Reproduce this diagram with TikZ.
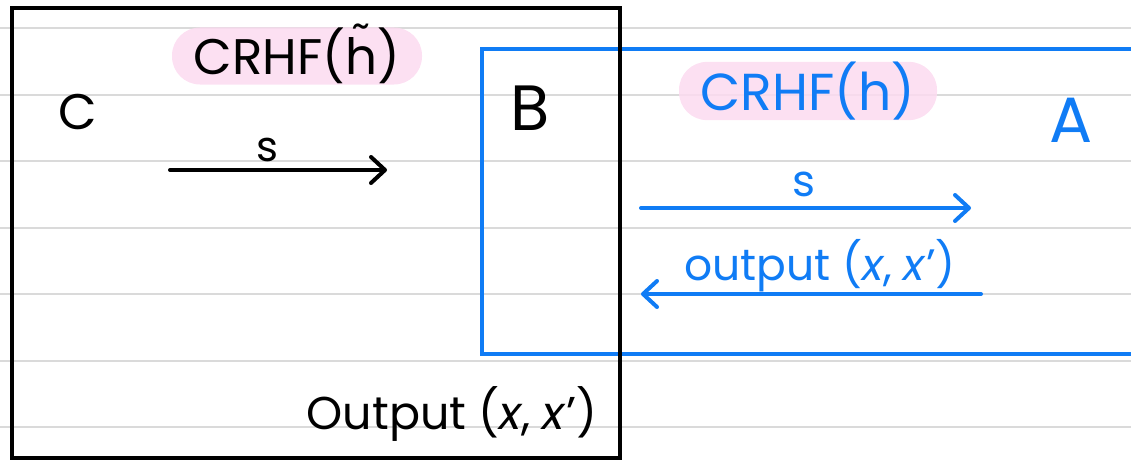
\documentclass[tikz,border=0pt]{standalone}
\usepackage{fontspec}
\setmainfont{Poppins}
\usetikzlibrary{arrows.meta}
\definecolor{penblue}{RGB}{16,124,245}
\definecolor{marker}{RGB}{252,218,240}
\definecolor{rulegray}{RGB}{218,218,218}
% h with a tilde placed just above its ascender
\newcommand{\htilde}{\ooalign{h\cr\hidewidth\raisebox{0.30em}{\char"02DC}\hidewidth\cr}}
\tikzset{
  ruleline/.style={draw=rulegray, line width=1.6},
  pill/.style={fill=marker, fill opacity=0.85, text opacity=1, rounded corners=28,
    minimum height=57, inner sep=0},
  frameblack/.style={draw=black, line width=3.6},
  frameblue/.style={draw=penblue, line width=4},
  penarrow/.style={line width=4, line cap=round,
    -{Straight Barb[length=14, width=26, round]}},
  hand/.style={inner sep=0, anchor=center},
}
\begin{document}
\begin{tikzpicture}[x=1pt, y=-1pt]
\useasboundingbox (0,0) rectangle (1131,460);

% notebook ruling
\foreach \yy in {28,95,161,228,294,361,427}
  \draw[ruleline] (0,\yy) -- (1131,\yy);

% highlighted function labels
\node[pill, minimum width=250] (hl) at (297,56)
  {\fontsize{50}{50}\selectfont CRHF(\htilde)};
\node[pill, minimum width=258, text=penblue] (hr) at (808,91)
  {\fontsize{52}{52}\selectfont CRHF(h)};

% frame of B (open to the right)
\draw[frameblue] (1140,49) -- (482,49) -- (482,354) -- (1140,354);
% frame of C
\draw[frameblack] (12,8) rectangle (620,458);

% party names
\node[hand] (C) at (78,112) {\fontsize{50}{50}\selectfont C};
\node[hand] (B) at (530,108) {\fontsize{64}{64}\selectfont B};
\node[hand, text=penblue] (A) at (1071,120) {\fontsize{64}{64}\selectfont A};

% C sends s to B
\coordinate (c1) at (170,170);
\coordinate (c2) at (387,170);
\draw[penarrow, black] (c1) -- (c2);
\node[hand] (s1) at (267,150) {\fontsize{42}{42}\selectfont s};

% B forwards s to A
\coordinate (b1) at (641,208);
\coordinate (b2) at (971,208);
\draw[penarrow, penblue] (b1) -- (b2);
\node[hand, text=penblue] (s2) at (804,184) {\fontsize{44}{44}\selectfont s};

% A answers with a collision
\coordinate (a1) at (981,294);
\coordinate (a2) at (641,294);
\draw[penarrow, penblue] (a1) -- (a2);
\node[hand, text=penblue] (outA) at (820,266)
  {\fontsize{44}{44}\selectfont output (\textit{x}, \textit{x}')};

% B's final output
\node[hand] (outB) at (452,414)
  {\fontsize{46}{46}\selectfont Output (\textit{x}, \textit{x}')};
\end{tikzpicture}
\end{document}
